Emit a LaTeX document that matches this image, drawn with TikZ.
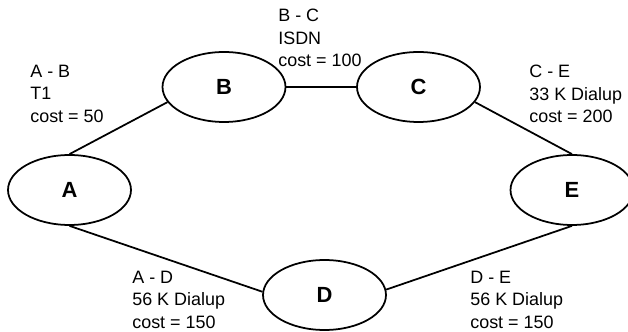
\documentclass[tikz,border=0pt]{standalone}
\usepackage{fontspec}
\setmainfont{Liberation Sans}
\usetikzlibrary{shapes.geometric}

\begin{document}
\begin{tikzpicture}[x=0.02cm, y=0.02cm,
    site/.style={ellipse, draw, line width=1pt, minimum width=2.46cm, minimum height=1.4cm,
                 inner sep=0pt, font=\fontsize{12.5}{14}\selectfont\bfseries},
    link/.style={line width=1pt},
    cost/.style={anchor=north west, inner sep=0pt, align=left, font=\fontsize{10.2}{12.7}\selectfont}]
            \useasboundingbox (0,0) rectangle (628,331);
            \node[site] (A) at (69.5,141) {A};
            \node[site] (B) at (224,244) {B};
            \node[site] (C) at (418.5,244) {C};
            \node[site] (D) at (324.5,36) {D};
            \node[site] (E) at (572,141) {E};

            \draw[link] (A.north) -- (B.195);
            \draw[link] (B.east) -- (C.west);
            \draw[link] (C.345) -- (E.north);
            \draw[link] (A.south) -- (D.177);
            \draw[link] (D.5) -- (E.south);

            \node[cost] (ab) at (30,266) {A - B\\T1\\cost = 50};
            \node[cost] (bc) at (278,322) {B - C\\ISDN\\cost = 100};
            \node[cost] (ce) at (529,266) {C - E\\33 K Dialup\\cost = 200};
            \node[cost] (ad) at (132,60) {A - D\\56 K Dialup\\cost = 150};
            \node[cost] (de) at (470,60) {D - E\\56 K Dialup\\cost = 150};
        \end{tikzpicture}
\end{document}
